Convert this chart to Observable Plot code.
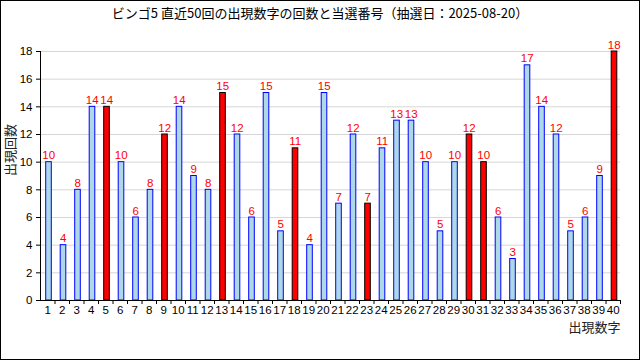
<!DOCTYPE html>
<html><head><meta charset="utf-8">
<script src="https://cdn.jsdelivr.net/npm/d3@7"></script>
<script src="https://cdn.jsdelivr.net/npm/@observablehq/plot@0.6"></script>
<style>
body{margin:0;background:#fff;}
#wrap{width:640px;height:360px;box-sizing:border-box;border:1px solid #000;overflow:hidden;background:#fff;}
#title{height:24px;line-height:23px;text-align:center;font-size:13px;font-family:"Noto Sans CJK JP",sans-serif;color:#000;}
svg{display:block;}
</style></head><body>
<div id="wrap"><div id="title">ビンゴ5 直近50回の出現数字の回数と当選番号（抽選日：2025-08-20）</div></div>
<script>
const numbers = [1,2,3,4,5,6,7,8,9,10,11,12,13,14,15,16,17,18,19,20,21,22,23,24,25,26,27,28,29,30,31,32,33,34,35,36,37,38,39,40];
const counts  = [10,4,8,14,14,10,6,8,12,14,9,8,15,12,6,15,5,11,4,15,7,12,7,11,13,13,10,5,10,12,10,6,3,17,14,12,5,6,9,18];
const winners = [5,9,13,18,23,30,31,40];
const yTicks  = [0,2,4,6,8,10,12,14,16,18];
const xLabel = "出現数字";
const yLabel = "出現回数";

const data = numbers.map((n, i) => ({n, c: counts[i], win: winners.includes(n)}));

const W = 638, H = 334;
const mL = 39, mR = 19, mT = 26, mB = 59;
const step = (W - mL - mR) / numbers.length;
const jp = "Noto Sans CJK JP";

const chart = Plot.plot({
  width: W, height: H,
  marginLeft: mL, marginRight: mR, marginTop: mT, marginBottom: mB,
  style: {fontFamily: "Liberation Sans", fontSize: "11.5px", background: "white", color: "black"},
  x: {type: "band", domain: numbers, padding: 0, round: false},
  y: {domain: [0, 18]},
  color: {type: "identity"},
  marks: [
    Plot.gridY(yTicks, {stroke: "#d6d6d6", strokeOpacity: 1}),
    Plot.barY(data, {x: "n", y: "c", fill: d => d.win ? "red" : "lightblue", stroke: d => d.win ? "black" : "blue", strokeWidth: 1, insetLeft: 5.7, insetRight: 3.2}),
    Plot.text(data, {x: "n", y: "c", text: d => String(d.c), fill: "red", lineAnchor: "bottom", dy: -3, dx: 1, fontSize: 11.5}),
    Plot.ruleY([0], {stroke: "black"}),
    Plot.ruleX([numbers[0]], {dx: -step / 2, y1: 0, y2: 18, stroke: "black"}),
    Plot.axisY(yTicks, {tickSize: 4, tickPadding: 4, label: null}),
    Plot.axisX({tickSize: 0, tickPadding: 5, label: null}),
    Plot.axisX({tickSize: 4, tickFormat: () => "", dx: step / 2, label: null}),
    Plot.text([xLabel], {frameAnchor: "bottom-right", dy: 22, lineAnchor: "top", textAnchor: "end", fontSize: 13, fontFamily: jp, fill: "#222"}),
    Plot.text([yLabel], {frameAnchor: "left", dx: -30, rotate: -90, fontSize: 13, fontFamily: jp, fill: "#222"})
  ]
});
document.getElementById("wrap").appendChild(chart);
</script>
</body></html>
